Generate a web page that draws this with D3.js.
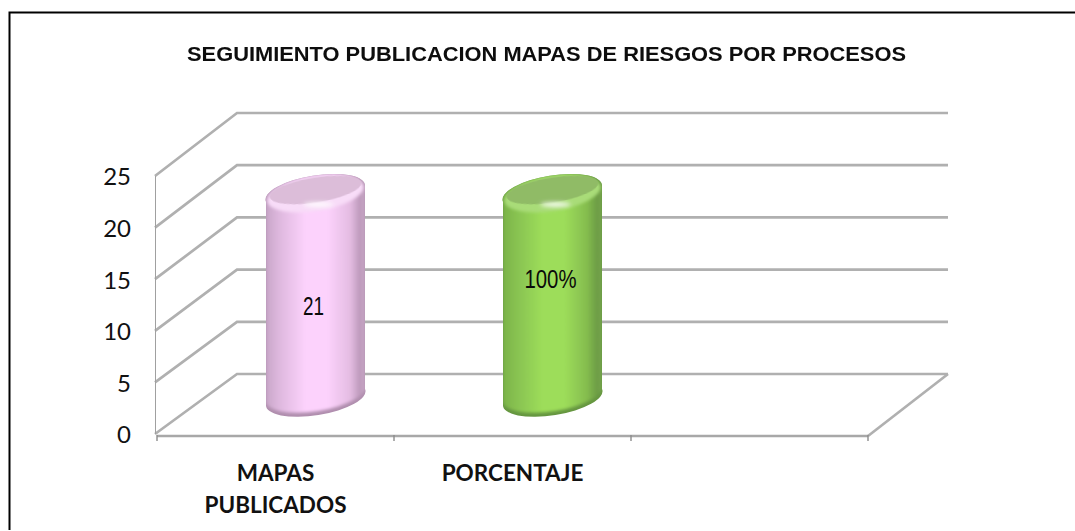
<!DOCTYPE html>
<html><head><meta charset="utf-8">
<script src="https://cdn.jsdelivr.net/npm/d3@7"></script>
<style>html,body{margin:0;padding:0;background:#fff;overflow:hidden}svg{display:block}</style>
</head><body><div id="chart"></div>
<script>
const chartTitle = "SEGUIMIENTO PUBLICACION MAPAS DE RIESGOS POR PROCESOS";
const categories = ["MAPAS PUBLICADOS", "PORCENTAJE", ""];
const barCategories = ["MAPAS PUBLICADOS", "PORCENTAJE"];
const barValues = [21, 21];
const barLabels = ["21", "100%"];
const yTicks = [0, 5, 10, 15, 20, 25];

const W = 1075, H = 531;
const svg = d3.select("#chart").append("svg").attr("width", W).attr("height", H);
const defs = svg.append("defs");

const x = d3.scaleBand().domain(categories).range([157, 868]);
const y = d3.scaleLinear().domain([0, 25]).range([434, 176]);
const yBack = d3.scaleLinear().domain([0, 25]).range([374, 113]);
const barH = d3.scaleLinear().domain([0, 25]).range([0, 241.5]);
const depth = {dx: 81};
const lineCol = "#b0b0b0";

function blur(id, sd) {
  defs.append("filter").attr("id", id).attr("filterUnits", "userSpaceOnUse")
    .attr("x", 0).attr("y", 0).attr("width", W).attr("height", H)
    .append("feGaussianBlur").attr("stdDeviation", sd);
}
blur("soft", 0.55); blur("glow", 2); blur("rim", 1.8); blur("text", 0.25);

// frame
svg.append("path").attr("d", `M${W},12.5H9.5V530`).attr("fill", "none").attr("stroke", "#000").attr("stroke-width", 2);

// title
svg.append("text").text(chartTitle)
  .attr("x", 187).attr("y", 60.5)
  .attr("textLength", 719).attr("lengthAdjust", "spacingAndGlyphs")
  .attr("font-family", "'Liberation Sans',Arial,sans-serif")
  .attr("font-weight", 700).attr("font-size", 21).attr("fill", "#0a0a0a").attr("filter", "url(#text)");

// walls: gridlines and floor
const grid = svg.append("g").attr("fill", "none").attr("stroke", lineCol).attr("stroke-width", 2.7).attr("filter", "url(#soft)");
grid.selectAll("path.g").data(yTicks).join("path").attr("class", "g")
  .attr("d", d => `M155,${y(d)}L${155 + depth.dx + 1},${yBack(d)}H${948}`);
grid.append("path").attr("d", `M${x.range()[1]},${y(0) + 2}L${948},${yBack(0)}`);
grid.append("path").attr("d", `M${x.range()[0]},${y(0) + 2}H${x.range()[1]}`).attr("stroke", "#a8a8a8");

// y axis
const yAxis = svg.append("g").attr("transform", "translate(155,0)")
  .call(d3.axisLeft(y).tickValues(yTicks).tickSize(8).tickPadding(16).tickFormat(d3.format("d")));
yAxis.selectAll("line,path").attr("stroke", "#a0a0a0").attr("stroke-width", 2).attr("filter", "url(#soft)");
yAxis.select("path.domain").attr("d", `M0,${y(25)}V${y(0)}`);
yAxis.selectAll("text").attr("font-family", "Lato,sans-serif").attr("font-size", 24).attr("fill", "#111").attr("dy", "0.37em");

// x axis ticks sit at the band boundaries
const xEdges = categories.map(c => x(c)).concat(x.range()[1]);
svg.append("g").selectAll("line").data(xEdges).join("line")
  .attr("x1", d => d).attr("x2", d => d).attr("y1", y(0) + 1).attr("y2", y(0) + 7)
  .attr("stroke", "#8c8c8c").attr("stroke-width", 1.4);

// x labels
const xl = svg.append("g").attr("font-family", "Lato,sans-serif").attr("font-weight", 700)
  .attr("font-size", 22.5).attr("fill", "#111").attr("text-anchor", "middle");
categories.forEach(c => {
  if (!c) return;
  const words = c.split(" ");
  const t = xl.append("text").attr("x", x(c) + x.bandwidth() / 2).attr("y", 481);
  words.forEach((w, i) => t.append("tspan").attr("x", x(c) + x.bandwidth() / 2).attr("dy", i ? 32 : 0).text(w));
});

// cylinders
const palette = [
  {stops: ["#c8a6c8", "#dcb6dc", "#fcd2fc", "#fcd2fc", "#e4bce2", "#bd99bb", "#c8a8c6"], top: "#dcbdd9", rim: "#f8dcf8", low: "#b08eae"},
  {stops: ["#7bb34a", "#86c050", "#9ddd5a", "#9ddd5a", "#84bc4e", "#6c9c44", "#76a64c"], top: "#90bb66", rim: "#a9dc78", low: "#659640"}
];
const stopAt = [0, 0.12, 0.4, 0.62, 0.85, 0.95, 1];
const labelWidth = [21, 52];
const rx = 49.5, ry = 17, rot = -9;
const labelNudge = [11, -16];

barCategories.forEach((c, i) => {
  const p = palette[i];
  const g = defs.append("linearGradient").attr("id", "side" + i).attr("gradientUnits", "userSpaceOnUse");
  p.stops.forEach((s, k) => g.append("stop").attr("offset", stopAt[k]).attr("stop-color", s));
  const cx = x(c) + x.bandwidth() / 2 + depth.dx / 2 - 0.5;
  const yBottom = y(0) + (yBack(0) - y(0)) * 0.62;
  const yTop = yBottom - barH(barValues[i]);
  const t = Math.tan(rot * Math.PI / 180) * rx;
  const L = cx - rx, R = cx + rx;
  g.attr("x1", L).attr("x2", R).attr("y1", 0).attr("y2", 0);
  const arcR = rx + 0.8;
  const bodyPath = yb => `M${L},${yTop - t}A${arcR},${ry} ${rot} 1 1 ${R},${yTop + t}`
    + `L${R},${yb + t}A${arcR},${ry} ${rot} 1 1 ${L},${yb - t}Z`;
  defs.append("clipPath").attr("id", "clip" + i).append("path").attr("d", bodyPath(yBottom));
  const b = svg.append("g").attr("filter", "url(#soft)");
  b.append("path").attr("d", bodyPath(yBottom)).attr("fill", p.low);
  const inner = b.append("g").attr("clip-path", `url(#clip${i})`);
  // the lit side stops a little short of the foot, leaving a darker crescent
  inner.append("path").attr("d", bodyPath(yBottom - 4)).attr("fill", `url(#side${i})`).attr("filter", "url(#rim)");
  // pale rim around the lid
  inner.append("ellipse").attr("cx", cx).attr("cy", yTop).attr("rx", rx - 1).attr("ry", ry)
    .attr("transform", `rotate(${rot} ${cx} ${yTop})`)
    .attr("fill", p.rim).attr("filter", "url(#rim)");
  // lid
  inner.append("ellipse").attr("cx", cx).attr("cy", yTop - 4).attr("rx", rx - 3).attr("ry", 12.5)
    .attr("transform", `rotate(${rot} ${cx} ${yTop - 4})`)
    .attr("fill", p.top).attr("filter", "url(#soft)");
  // highlight
  inner.append("ellipse").attr("cx", cx + 3).attr("cy", yTop + 10.5).attr("rx", 15).attr("ry", 2.2)
    .attr("fill", "#fff").attr("fill-opacity", 0.95).attr("filter", "url(#glow)");
  svg.append("text").text(barLabels[i])
    .attr("x", cx - 2 - labelWidth[i] / 2).attr("y", (yTop + yBottom) / 2 + labelNudge[i])
    .attr("textLength", labelWidth[i]).attr("lengthAdjust", "spacingAndGlyphs")
    .attr("dominant-baseline", "central")
    .attr("font-family", "'Liberation Sans',Arial,sans-serif")
    .attr("font-size", 25).attr("fill", "#0a0a0a");
});
</script></body></html>
